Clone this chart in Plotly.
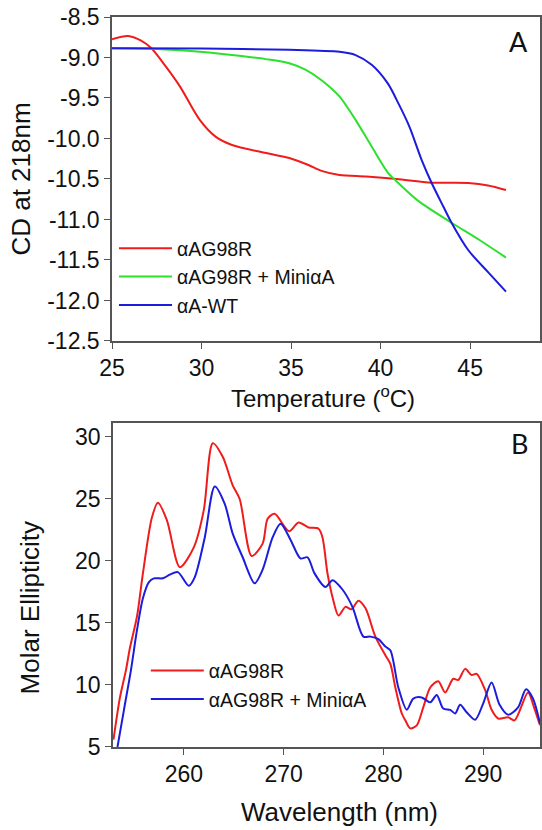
import plotly.graph_objects as go

# ---------------- Panel A data (CD at 218 nm vs temperature) ----------------
temp_red = [25, 25.9, 26.6, 27.2, 28.0, 28.8, 29.9, 30.8, 31.7, 33.6, 34.9, 36.0, 36.7,
            37.7, 39.2, 40.9, 42.85, 44.9, 46.0, 47.0]
cd_red = [-8.775, -8.735, -8.79, -8.887, -9.11, -9.36, -9.77, -9.98, -10.08, -10.18, -10.24,
          -10.33, -10.40, -10.45, -10.47, -10.50, -10.545, -10.55, -10.58, -10.636]

temp_green = [25, 27.5, 29.9, 31.7, 33.6, 34.9, 35.8, 36.7, 37.7, 38.6, 39.5, 40.4, 40.9,
              42.1, 43.96, 45.5, 47.0]
cd_green = [-8.887, -8.895, -8.93, -8.97, -9.02, -9.07, -9.15, -9.28, -9.48, -9.77, -10.1,
            -10.42, -10.53, -10.77, -11.04, -11.25, -11.47]

temp_blue = [25, 30, 34.9, 37.7, 38.6, 39.5, 40.4, 41.0, 41.6, 42.3, 42.85, 43.5, 43.96,
             44.9, 46.0, 47.0]
cd_blue = [-8.887, -8.89, -8.905, -8.93, -8.97, -9.09, -9.32, -9.57, -9.85, -10.27, -10.55,
           -10.84, -11.04, -11.38, -11.65, -11.89]

names_a = ["\u03b1AG98R", "\u03b1AG98R + Mini\u03b1A", "\u03b1A-WT"]

# ---------------- Panel B data (molar ellipticity vs wavelength) ----------------
wl_red = [252.95, 253.6, 254.2, 254.6, 255.3, 255.9, 256.8, 257.4, 258.3, 259.6, 261.0, 262.0,
          262.9, 263.9, 264.9, 265.6, 266.8, 267.9, 268.4, 269.1, 270.55, 271.5, 272.5, 273.5,
          273.9, 274.4, 274.9, 275.5, 276.2, 276.8, 277.5, 278.2, 279.2, 280.2, 280.7, 281.2,
          281.85, 282.2, 282.7, 283.35, 284.0, 284.7, 285.5, 286.2, 287.0, 287.5, 288.2,
          288.85, 289.35, 290.2, 290.85, 291.5, 292.5, 293.15, 294.5, 295.1, 295.7]
me_red = [5.6, 9.0, 11.2, 13.0, 15.5, 19.0, 23.5, 24.7, 23.3, 19.5, 21.1, 24.1,
          29.5, 28.4, 26.1, 25.0, 20.4, 21.4, 23.4, 23.8, 22.4, 23.1, 22.7, 22.6,
          21.9, 19.0, 17.1, 15.6, 16.3, 16.1, 16.8, 16.2, 13.9, 12.4, 11.7, 9.8,
          7.7, 7.15, 6.5, 6.75, 8.2, 9.8, 10.3, 9.4, 10.5, 10.4, 11.3,
          10.8, 10.9, 9.6, 8.0, 7.3, 7.4, 7.15, 9.4, 8.2, 6.75]

wl_blue = [253.35, 254.0, 254.7, 255.3, 255.9, 256.5, 257.0, 257.9, 258.6, 259.4, 260.5, 261.1,
           262.1, 263.1, 264.1, 264.9, 265.9, 267.1, 267.9, 268.9, 269.7, 270.7, 271.7, 272.4,
           273.1, 274.2, 274.9, 275.9, 276.9, 278.0, 278.7, 279.5, 280.2, 280.7, 281.5, 282.35,
           283.0, 283.85, 284.7, 285.35, 286.0, 286.7, 287.2, 287.7, 288.35, 289.2, 290.0,
           290.85, 291.65, 292.5, 293.5, 294.3, 295.0, 295.7]
me_blue = [5.0, 8.0, 11.2, 14.4, 17.0, 18.3, 18.6, 18.6, 18.9, 19.1, 18.0, 18.7,
           21.9, 26.0, 24.6, 22.2, 20.3, 18.2, 19.3, 21.9, 23.0, 21.7, 20.2, 20.3,
           19.0, 17.9, 18.45, 17.7, 16.3, 13.9, 13.9, 13.7, 13.1, 12.8, 9.8, 8.0,
           8.9, 9.0, 8.6, 9.2, 8.1, 8.0, 7.7, 8.4, 7.8, 7.2, 8.5,
           10.2, 8.4, 7.6, 8.2, 9.65, 8.9, 6.9]

names_b = ["\u03b1AG98R", "\u03b1AG98R + Mini\u03b1A"]

RED, GREEN, BLUE = "#f01c1c", "#2ee02e", "#1c1cdc"
FONT = "Liberation Sans, Arial, sans-serif"
AXC = "#555555"

fig = go.Figure()
for x, y, n, c in [(temp_red, cd_red, names_a[0], RED),
                   (temp_green, cd_green, names_a[1], GREEN),
                   (temp_blue, cd_blue, names_a[2], BLUE)]:
    fig.add_trace(go.Scatter(x=x, y=y, name=n, mode="lines",
                             line=dict(color=c, width=2, shape="spline", smoothing=0.8),
                             xaxis="x", yaxis="y", legend="legend"))
for x, y, n, c in [(wl_red, me_red, names_b[0], RED),
                   (wl_blue, me_blue, names_b[1], BLUE)]:
    fig.add_trace(go.Scatter(x=x, y=y, name=n, mode="lines",
                             line=dict(color=c, width=2, shape="spline", smoothing=0.8),
                             xaxis="x2", yaxis="y2", legend="legend2"))

axis_common = dict(showline=True, linecolor=AXC, linewidth=1.5, mirror=True,
                   ticks="outside", ticklen=6, tickwidth=1.3, tickcolor=AXC,
                   showgrid=False, zeroline=False,
                   tickfont=dict(family=FONT, size=23, color="#111"))
TITLE_FONT = dict(family=FONT, size=24, color="#111")
BIG_TITLE_FONT = dict(family=FONT, size=26, color="#111")

fig.update_layout(
    width=542, height=830,
    margin=dict(l=112, r=0, t=17, b=83),
    paper_bgcolor="white", plot_bgcolor="white",
    font=dict(family=FONT, color="#111"),
    xaxis=dict(domain=[0, 1], range=[25, 48.9], tickvals=[25, 30, 35, 40, 45],
               anchor="y", **axis_common),
    yaxis=dict(domain=[0.5562, 1], range=[-12.5, -8.5],
               tickvals=[-12.5, -12.0, -11.5, -11.0, -10.5, -10.0, -9.5, -9.0, -8.5],
               ticktext=["-12.5", "-12.0", "-11.5", "-11.0", "-10.5", "-10.0", "-9.5", "-9.0", "-8.5"],
               anchor="x",
               title=dict(text="CD at 218nm", font=BIG_TITLE_FONT, standoff=9),
               **axis_common),
    xaxis2=dict(domain=[0.0023, 1], range=[252.9, 295.7], tickvals=[260, 270, 280, 290],
                anchor="y2", **axis_common),
    yaxis2=dict(domain=[0, 0.4434], range=[5, 31.1], tickvals=[5, 10, 15, 20, 25, 30],
                anchor="x2", **axis_common),
    legend=dict(x=0.0046, y=0.7095, xanchor="left", yanchor="top", bgcolor="rgba(0,0,0,0)",
                font=dict(family=FONT, size=19.5, color="#111"), itemwidth=53,
                tracegroupgap=0),
    legend2=dict(x=0.079, y=0.1310, xanchor="left", yanchor="top", bgcolor="rgba(0,0,0,0)",
                 font=dict(family=FONT, size=19.5, color="#111"), itemwidth=53,
                 tracegroupgap=0),
    annotations=[
        dict(text="A", x=0.949, y=0.9658, xref="paper", yref="paper", showarrow=False,
             xanchor="center", yanchor="middle",
             font=dict(family="Lato, sans-serif", size=27, color="#111")),
        dict(text="B", x=0.951, y=0.4164, xref="paper", yref="paper", showarrow=False,
             xanchor="center", yanchor="middle",
             font=dict(family="Lato, sans-serif", size=27, color="#111")),
        # x-axis title of panel A
        dict(text="Temperature (<sup>o</sup>C)", x=0.493, y=0.4795, xref="paper", yref="paper",
             showarrow=False, xanchor="center", yanchor="middle", font=TITLE_FONT),
        # axis titles of panel B
        dict(text="Molar Ellipticity", x=-0.1907, y=0.1904, xref="paper", yref="paper",
             showarrow=False, textangle=-90, xanchor="center", yanchor="middle",
             font=BIG_TITLE_FONT),
        dict(text="Wavelength (nm)", x=0.5326, y=-0.089, xref="paper", yref="paper",
             showarrow=False, xanchor="center", yanchor="middle",
             font=BIG_TITLE_FONT),
    ],
)

fig.write_html("out.html")
